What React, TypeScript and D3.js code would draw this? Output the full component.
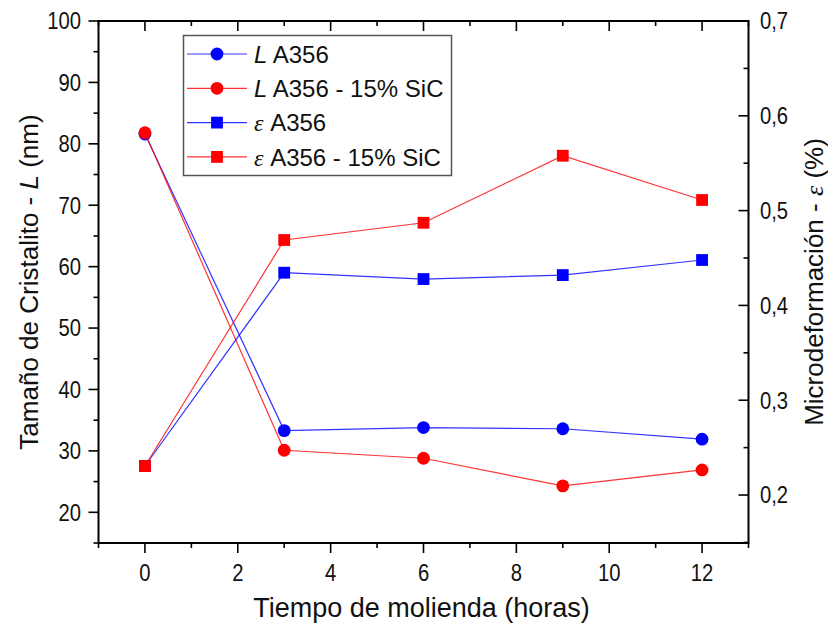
import React from "react";
import * as d3 from "d3";

const hours = [0, 3, 6, 9, 12];
const L_A356 = [81.6, 33.3, 33.8, 33.6, 31.9];
const L_SiC = [81.8, 30.1, 28.8, 24.3, 26.9];
const eps_A356 = [0.2306, 0.4345, 0.4278, 0.432, 0.4479];
const eps_SiC = [0.2306, 0.469, 0.4872, 0.5579, 0.5112];

const xMajor = [0, 2, 4, 6, 8, 10, 12];
const xMinor = [-1, 1, 3, 5, 7, 9, 11, 13];
const leftMajor = [20, 30, 40, 50, 60, 70, 80, 90, 100];
const leftMinor = [15, 25, 35, 45, 55, 65, 75, 85, 95];
const rightMajor = [0.2, 0.3, 0.4, 0.5, 0.6, 0.7];
const rightMinor = [0.15, 0.25, 0.35, 0.45, 0.55, 0.65];

const W = 828, H = 625;
const L = 98.5, R = 748.5, T = 21, B = 543;
const FONT = "'Liberation Sans', Arial, sans-serif";
const BLUE = "#0000ff";
const RED = "#ff0000";
const SX = 0.88;

export default function App() {
  const x = d3.scaleLinear().domain([-1, 13]).range([L, R]);
  const yL = d3.scaleLinear().domain([15, 100]).range([B, T]);
  const yR = d3.scaleLinear().domain([0.1494, 0.7]).range([B, T]);

  const lineL = d3.line<number>().x((_, i) => x(hours[i])).y((d) => yL(d));
  const lineR = d3.line<number>().x((_, i) => x(hours[i])).y((d) => yR(d));

  const series = [
    { vals: L_A356, color: BLUE, shape: "circle", axis: "L" },
    { vals: L_SiC, color: RED, shape: "circle", axis: "L" },
    { vals: eps_A356, color: BLUE, shape: "square", axis: "R" },
    { vals: eps_SiC, color: RED, shape: "square", axis: "R" },
  ];

  const legend = [
    { sym: "L", symStyle: "L", rest: " A356", color: BLUE, shape: "circle" },
    { sym: "L", symStyle: "L", rest: " A356 - 15% SiC", color: RED, shape: "circle" },
    { sym: "ε", symStyle: "E", rest: " A356", color: BLUE, shape: "square" },
    { sym: "ε", symStyle: "E", rest: " A356 - 15% SiC", color: RED, shape: "square" },
  ];

  const marker = (shape: string, cx: number, cy: number, color: string, key: any) =>
    shape === "circle" ? (
      <circle key={key} cx={cx} cy={cy} r={6.4} fill={color} />
    ) : (
      <rect key={key} x={cx - 5.9} y={cy - 5.9} width={11.8} height={11.8} fill={color} />
    );

  const axisColor = "#000";
  const tickW = 1.6;

  const tickText = (key: string, tx: number, ty: number, anchor: string, label: string, dy?: string) => (
    <g key={key} transform={`translate(${tx},${ty}) scale(${SX},1)`}>
      <text x={0} y={0} dy={dy} textAnchor={anchor} fontSize={23} fill="#111">
        {label}
      </text>
    </g>
  );

  return (
    <svg width={W} height={H} style={{ position: "absolute", left: 0, top: 0, background: "#fff" }} fontFamily={FONT}>
      <rect x={0} y={0} width={W} height={H} fill="#fff" />
      {/* series */}
      {series.map((s, si) => (
        <g key={si}>
          <path
            d={(s.axis === "L" ? lineL : lineR)(s.vals) || ""}
            fill="none"
            stroke={s.color}
            strokeWidth={1.2}
            strokeOpacity={0.8}
          />
          {s.vals.map((v, i) =>
            marker(s.shape, x(hours[i]), s.axis === "L" ? yL(v) : yR(v), s.color, i)
          )}
        </g>
      ))}

      {/* frame */}
      <rect x={L} y={T} width={R - L} height={B - T} fill="none" stroke={axisColor} strokeWidth={2} />

      {/* bottom ticks (outward) */}
      {xMajor.map((v) => (
        <line key={"bM" + v} x1={x(v)} x2={x(v)} y1={B} y2={B + 10} stroke={axisColor} strokeWidth={tickW} />
      ))}
      {xMinor.map((v) => (
        <line key={"bm" + v} x1={x(v)} x2={x(v)} y1={B} y2={B + 5} stroke={axisColor} strokeWidth={tickW} />
      ))}
      {/* top ticks (inward) */}
      {xMajor.map((v) => (
        <line key={"tM" + v} x1={x(v)} x2={x(v)} y1={T} y2={T + 10} stroke={axisColor} strokeWidth={tickW} />
      ))}
      {xMinor.map((v) => (
        <line key={"tm" + v} x1={x(v)} x2={x(v)} y1={T} y2={T + 5} stroke={axisColor} strokeWidth={tickW} />
      ))}
      {/* left ticks (outward) */}
      {leftMajor.map((v) => (
        <line key={"lM" + v} x1={L - 10} x2={L} y1={yL(v)} y2={yL(v)} stroke={axisColor} strokeWidth={tickW} />
      ))}
      {leftMinor.map((v) => (
        <line key={"lm" + v} x1={L - 5} x2={L} y1={yL(v)} y2={yL(v)} stroke={axisColor} strokeWidth={tickW} />
      ))}
      {/* right ticks (inward) */}
      {rightMajor.map((v) => (
        <line key={"rM" + v} x1={R - 10} x2={R} y1={yR(v)} y2={yR(v)} stroke={axisColor} strokeWidth={tickW} />
      ))}
      {rightMinor.map((v) => (
        <line key={"rm" + v} x1={R - 5} x2={R} y1={yR(v)} y2={yR(v)} stroke={axisColor} strokeWidth={tickW} />
      ))}

      {/* tick labels */}
      {xMajor.map((v) => tickText("xl" + v, x(v), 581, "middle", String(v)))}
      {leftMajor.map((v) => tickText("yl" + v, 81, yL(v), "end", String(v), "0.36em"))}
      {rightMajor.map((v) => tickText("yr" + v, 760, yR(v), "start", v.toFixed(1).replace(".", ","), "0.36em"))}

      {/* axis titles */}
      <text x={(L + R) / 2 - 2} y={617} textAnchor="middle" fontSize={27} fill="#111">
        Tiempo de molienda (horas)
      </text>
      <text transform={`translate(38, ${(T + B) / 2}) rotate(-90)`} textAnchor="middle" fontSize={26} fill="#111">
        Tamaño de Cristalito - <tspan fontStyle="italic">L</tspan> (nm)
      </text>
      <text transform={`translate(823, ${(T + B) / 2}) rotate(-90)`} textAnchor="middle" fontSize={26} fill="#111">
        Microdeformación - <tspan fontStyle="italic" fontFamily="'Liberation Serif', serif">ε</tspan> (%)
      </text>

      {/* legend */}
      <rect x={183.5} y={35.5} width={268} height={140} fill="#fff" stroke="#555" strokeWidth={1.5} />
      {legend.map((e, i) => {
        const cy = 54 + i * 34.3;
        return (
          <g key={"lg" + i}>
            <line x1={187} x2={247} y1={cy} y2={cy} stroke={e.color} strokeWidth={1.2} strokeOpacity={0.8} />
            {marker(e.shape, 217, cy, e.color, "m")}
            <text x={254} y={cy} dy="0.36em" fontSize={24} fill="#111">
              {e.symStyle === "L" ? (
                <tspan fontStyle="italic">{e.sym}</tspan>
              ) : (
                <tspan fontStyle="italic" fontFamily="'Liberation Serif', serif">{e.sym}</tspan>
              )}
              {e.rest}
            </text>
          </g>
        );
      })}
    </svg>
  );
}
